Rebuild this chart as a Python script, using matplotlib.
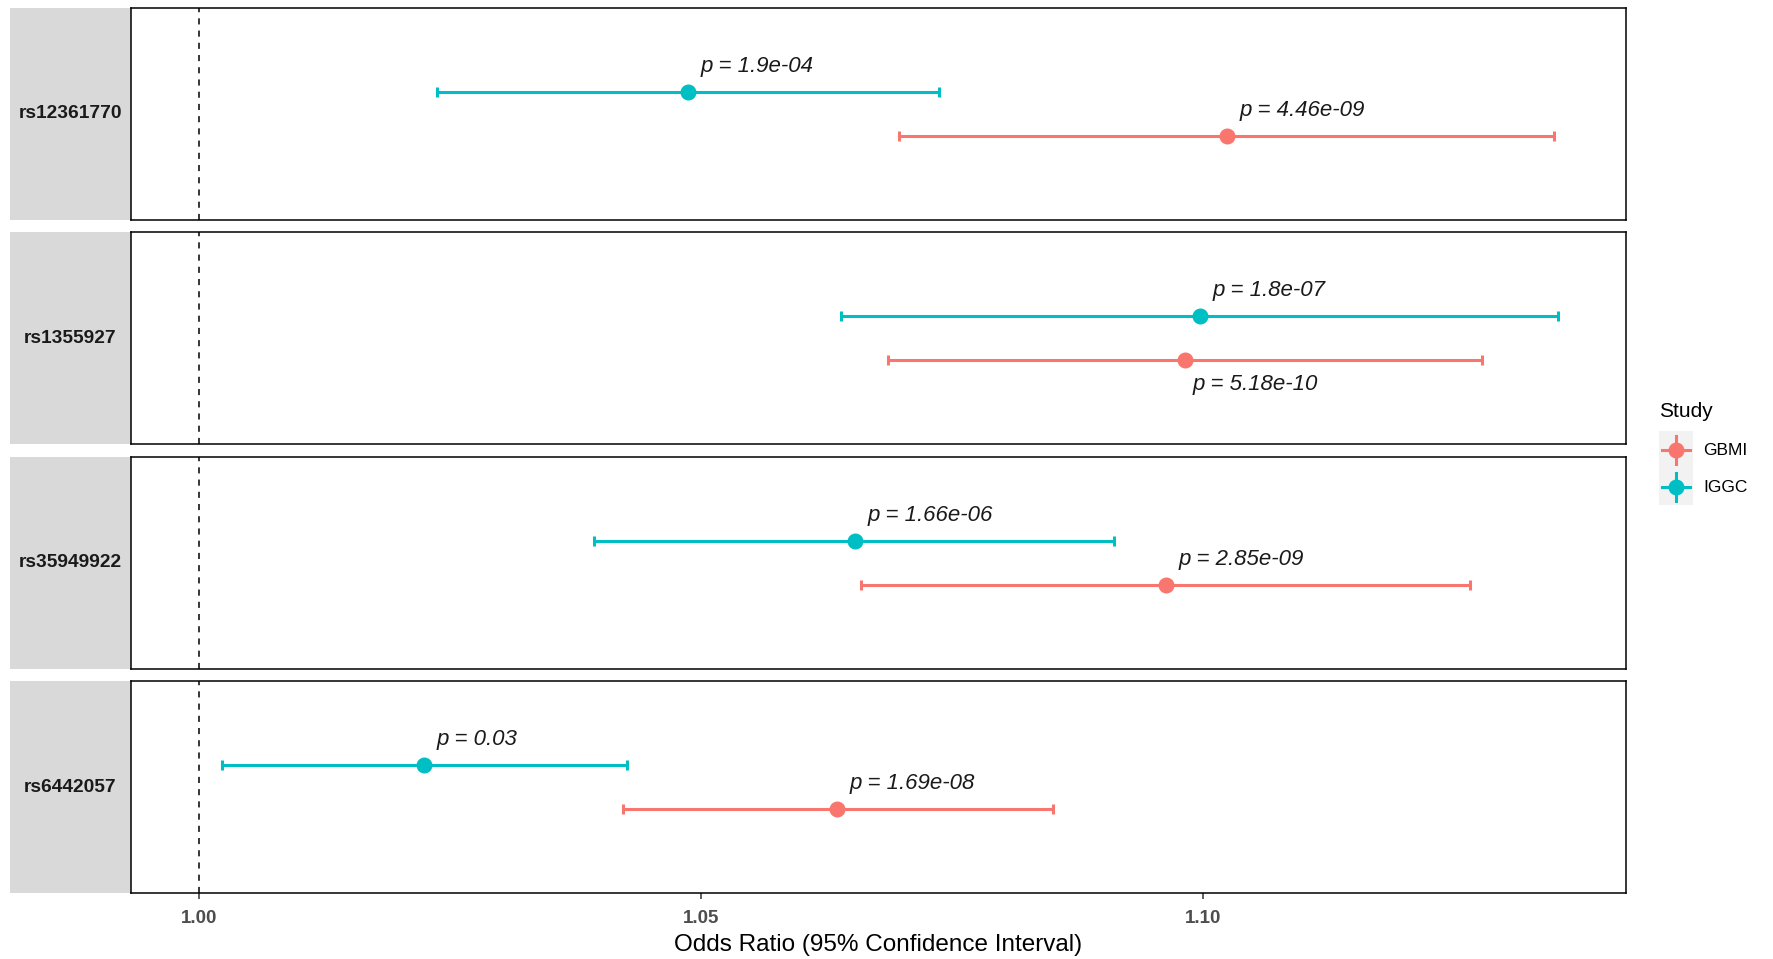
import matplotlib
matplotlib.use("Agg")
import matplotlib.pyplot as plt
from matplotlib.patches import Rectangle

plt.rcParams['font.family'] = ['Liberation Sans', 'DejaVu Sans']

# one facet per SNP, two studies in each
snps = ["rs12361770", "rs1355927", "rs35949922", "rs6442057"]
studies = ["GBMI", "IGGC"]
colors = {"GBMI": "#F8766D", "IGGC": "#00BFC4"}

gbmi_or = [1.1024, 1.0982, 1.0963, 1.0635]
gbmi_lo = [1.0697, 1.0686, 1.0659, 1.0422]
gbmi_hi = [1.1349, 1.1278, 1.1266, 1.0850]
gbmi_p = ["4.46e-09", "5.18e-10", "2.85e-09", "1.69e-08"]

iggc_or = [1.0487, 1.0997, 1.0653, 1.0224]
iggc_lo = [1.0237, 1.0639, 1.0393, 1.0023]
iggc_hi = [1.0737, 1.1353, 1.0911, 1.0426]
iggc_p = ["1.9e-04", "1.8e-07", "1.66e-06", "0.03"]

xticks = [1.00, 1.05, 1.10]

fig = plt.figure(figsize=(17.73, 9.59), dpi=100)
gs = fig.add_gridspec(4, 1, left=0.0739, right=0.9171, top=0.9918,
                      bottom=0.0684, hspace=0.059)

for i, snp in enumerate(snps):
    ax = fig.add_subplot(gs[i])
    rows = {
        "GBMI": (gbmi_or[i], gbmi_lo[i], gbmi_hi[i], gbmi_p[i], 1 - 0.125),
        "IGGC": (iggc_or[i], iggc_lo[i], iggc_hi[i], iggc_p[i], 1 + 0.125),
    }
    ax.axvline(1.0, color="black", ls=(0, (4, 4)), lw=1.1, zorder=1)
    for st in studies:
        est, lo, hi, p, y = rows[st]
        ax.errorbar(est, y, xerr=[[est - lo], [hi - est]], fmt="o",
                    color=colors[st], ms=10.5, elinewidth=2.2, capsize=3.5,
                    capthick=2.2, zorder=3)
        # GBMI label goes underneath when it would sit on the IGGC bar
        below = st == "GBMI" and iggc_lo[i] < est < iggc_hi[i]
        if below:
            ax.annotate(f"p = {p}", (est, y), xytext=(5, -17),
                        textcoords="offset points", ha="left", va="center",
                        fontsize=16, style="italic", color="#1a1a1a")
        else:
            ax.annotate(f"p = {p}", (est, y), xytext=(9, 18.5),
                        textcoords="offset points", ha="left", va="center",
                        fontsize=16, style="italic", color="#1a1a1a")

    ax.set_xlim(0.99324, 1.1421)
    ax.set_ylim(0.4, 1.6)
    ax.set_yticks([])
    ax.set_xticks(xticks)
    for s in ax.spines.values():
        s.set_color("black")
        s.set_linewidth(1.1)

    # strip on the left
    ax.add_patch(Rectangle((-0.081, 0), 0.081, 1, transform=ax.transAxes,
                           facecolor="#D9D9D9", edgecolor="none", clip_on=False))
    ax.text(-0.0405, 0.5, snp, transform=ax.transAxes, ha="center",
            va="center", fontsize=13.8, fontweight="bold", color="#1a1a1a")

    if i < len(snps) - 1:
        ax.tick_params(axis="x", length=0, labelbottom=False)
    else:
        ax.set_xticklabels([f"{t:.2f}" for t in xticks])
        ax.tick_params(axis="x", length=4, width=1.1, color="#333333", pad=8,
                       labelsize=13.5, labelcolor="#4D4D4D")
        for lab in ax.get_xticklabels():
            lab.set_fontweight("bold")
        ax.set_xlabel("Odds Ratio (95% Confidence Interval)", fontsize=17.5,
                      labelpad=5, color="black")

# legend drawn by hand to mimic the ggplot key
lax = fig.add_axes([0.9357, 0.4734, 0.0192, 0.0772])
lax.set_facecolor("#F2F2F2")
lax.set_xlim(0, 1)
lax.set_ylim(0, 1)
lax.set_xticks([])
lax.set_yticks([])
for s in lax.spines.values():
    s.set_visible(False)
for st, yy in zip(studies, [0.743, 0.243]):
    lax.plot([0.1, 0.9], [yy, yy], color=colors[st], lw=2.2)
    lax.plot([0.5, 0.5], [yy - 0.19, yy + 0.19], color=colors[st], lw=2.2)
    lax.plot(0.5, yy, "o", color=colors[st], ms=10.5)
    lax.text(1.3, yy, st, transform=lax.transAxes, ha="left", va="center",
             fontsize=12.5, color="black", clip_on=False)
fig.text(0.9357, 0.5704, "Study", ha="left", va="center", fontsize=15)

fig.savefig("out.png", dpi=100)
